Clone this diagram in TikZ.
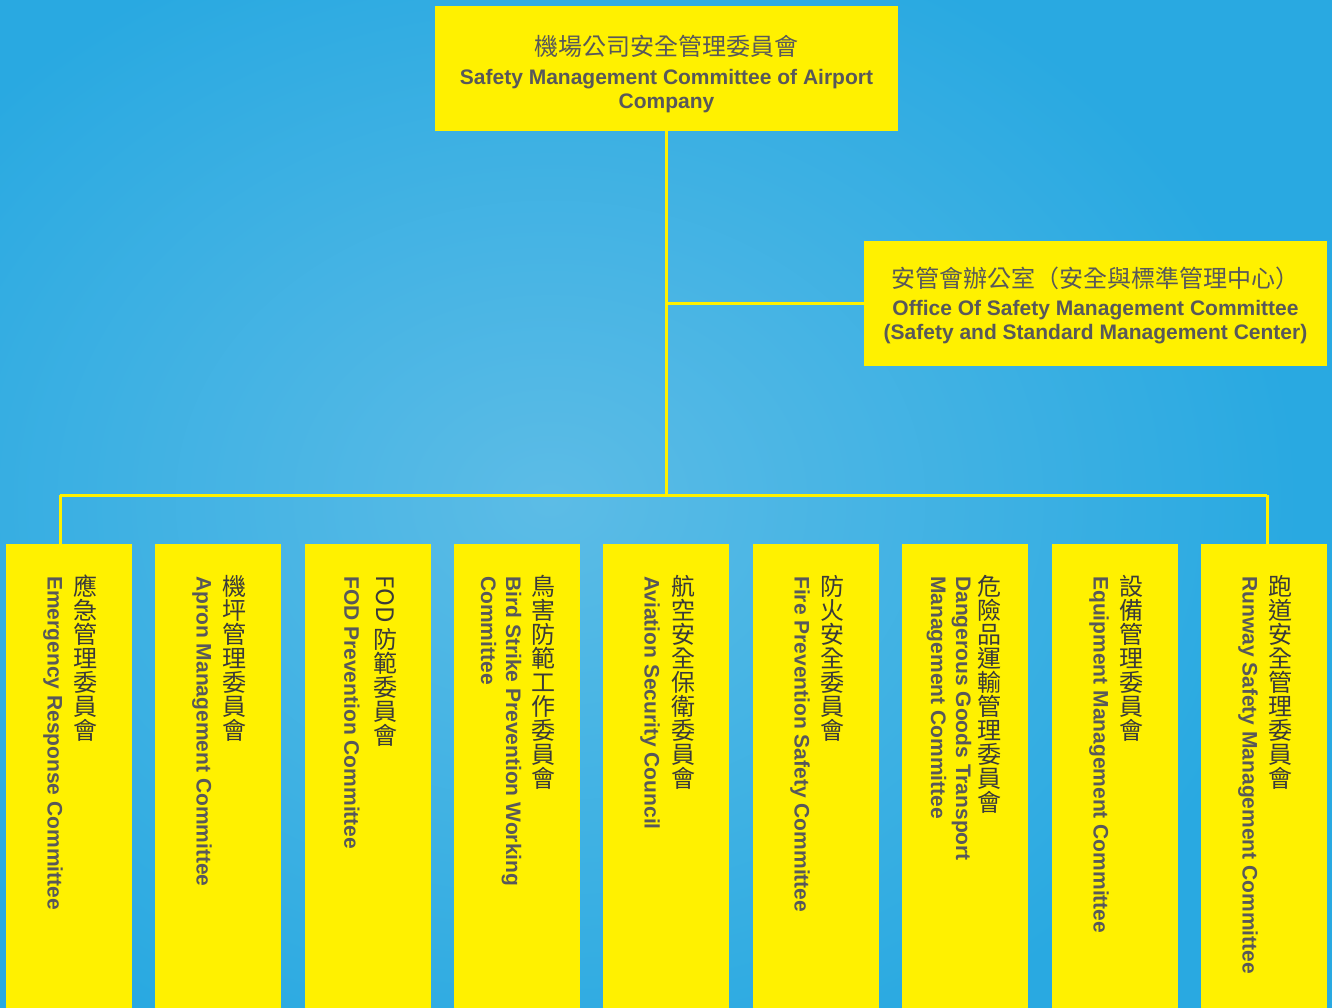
\documentclass[tikz,border=0pt]{standalone}
\usepackage{fontspec}
\setmainfont{Liberation Sans}
\newfontfamily\cjk{Noto Sans CJK TC}
\definecolor{ylw}{HTML}{FFF100}
\definecolor{txt}{HTML}{58585A}
\definecolor{cntxt}{HTML}{3A3A3A}
\definecolor{skyA}{HTML}{29A9E1}
\definecolor{skyB}{HTML}{5CBCE6}
\tikzset{
  topbox/.style={fill=ylw, inner sep=0, minimum width=463, minimum height=125, align=center,
    text=txt, font=\bfseries\fontsize{21}{24}\selectfont},
  lowbox/.style={fill=ylw, inner sep=0, minimum width=126, minimum height=464, anchor=north},
  cncol/.style={align=center, inner sep=0, anchor=north, text=cntxt, font=\cjk\mdseries\fontsize{24}{24}\selectfont},
  encol/.style={rotate=-90, anchor=west, align=left, inner sep=0, text=txt, font=\bfseries\fontsize{21}{25}\selectfont},
  link/.style={draw=ylw, line width=3}
}
\newcommand\committee[6]{%
  \node[lowbox] (#1) at (#2,544) {};
  \node[cncol] (#1cn) at ({#2+#5},575) {#3};
  \node[encol] (#1en) at ({#2+#6},576) {#4};
}
\begin{document}
\begin{tikzpicture}[x=1pt,y=-1pt]
\useasboundingbox (0,0) rectangle (1332,1008);
\fill[skyA] (0,0) rectangle (1332,1008);
\shade[inner color=skyB, outer color=skyA] (-200,-100) rectangle (1300,1100);

\node[topbox] (top) at (666.5,68.5) {{\cjk\mdseries\fontsize{24}{24}\selectfont\rule{0pt}{30.5pt}機場公司安全管理委員會}\\[5pt]Safety Management Committee of Airport\\Company};
\node[topbox] (office) at (1095.5,303.5) {{\cjk\mdseries\fontsize{24}{24}\selectfont\rule{0pt}{24pt}安管會辦公室（安全與標準管理中心）}\\[3.5pt]Office Of Safety Management Committee\\(Safety and Standard Management Center)};

\committee{c1}{69}{應\\急\\管\\理\\委\\員\\會}{Emergency Response Committee}{16}{-16}
\committee{c2}{218}{機\\坪\\管\\理\\委\\員\\會}{Apron Management Committee}{16}{-16}
\committee{c3}{368}{\rotatebox{-90}{FOD }\\防\\範\\委\\員\\會}{FOD Prevention Committee}{17}{-16}
\committee{c4}{517}{鳥\\害\\防\\範\\工\\作\\委\\員\\會}{Bird Strike Prevention Working\\Committee}{26}{-16}
\committee{c5}{666}{航\\空\\安\\全\\保\\衛\\委\\員\\會}{Aviation Security Council}{17}{-16}
\committee{c6}{816}{防\\火\\安\\全\\委\\員\\會}{Fire Prevention Safety Committee}{16}{-16}
\committee{c7}{965}{危\\險\\品\\運\\輸\\管\\理\\委\\員\\會}{Dangerous Goods Transport\\Management Committee}{24}{-16}
\committee{c8}{1115}{設\\備\\管\\理\\委\\員\\會}{Equipment Management Committee}{16}{-16}
\committee{c9}{1264}{跑\\道\\安\\全\\管\\理\\委\\員\\會}{Runway Safety Management Committee}{16}{-16}

\coordinate (oj) at (666.5,303.5);
\coordinate (bus) at (666.5,495);
\coordinate (bL) at (60,495);
\coordinate (bR) at (1267,495);
\draw[link] (top.south) -- (bus);
\draw[link] (oj) -- (office.west);
\draw[link] (bL) -- (bR);
\draw[link] (bL) -- (bL |- c1.north);
\draw[link] (bR) -- (bR |- c9.north);
\end{tikzpicture}
\end{document}
